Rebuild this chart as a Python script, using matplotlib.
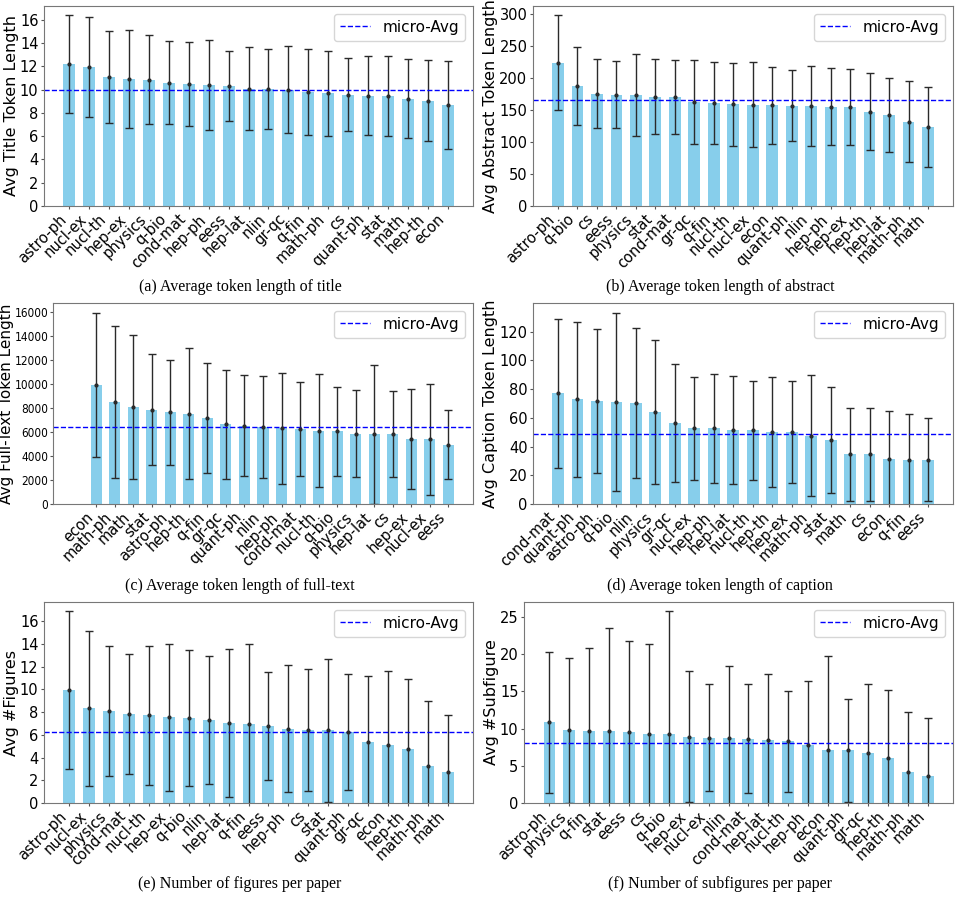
import matplotlib
matplotlib.use("Agg")
import matplotlib.pyplot as plt
from matplotlib import font_manager as fm
import numpy as np

# ---------------- data ----------------
title_cats = ["astro-ph", "nucl-ex", "nucl-th", "hep-ex", "physics", "q-bio", "cond-mat", "hep-ph",
              "eess", "hep-lat", "nlin", "gr-qc", "q-fin", "math-ph", "cs", "quant-ph", "stat",
              "math", "hep-th", "econ"]
title_mean = [12.2, 11.97, 11.09, 10.91, 10.86, 10.6, 10.51, 10.4, 10.31, 10.09, 10.06, 10.0, 9.8,
              9.69, 9.57, 9.49, 9.43, 9.23, 9.06, 8.69]
title_std = [4.2, 4.3, 3.95, 4.2, 3.85, 3.55, 3.6, 3.86, 3.0, 3.55, 3.4, 3.75, 3.72, 3.64, 3.12,
             3.38, 3.43, 3.4, 3.48, 3.75]
title_avg = 9.98

abs_cats = ["astro-ph", "q-bio", "cs", "eess", "physics", "stat", "cond-mat", "gr-qc", "q-fin",
            "nucl-th", "nucl-ex", "econ", "quant-ph", "nlin", "hep-ph", "hep-ex", "hep-th",
            "hep-lat", "math-ph", "math"]
abs_mean = [223.2, 186.6, 175.3, 173.7, 173.2, 170.6, 170.1, 162.4, 161.3, 158.8, 158.2, 157.2,
            156.7, 156.2, 155.2, 154.1, 146.9, 141.8, 131.4, 123.2]
abs_std = [74, 61, 54, 52, 64, 59, 57, 65, 64, 65, 66, 60, 56, 62.5, 60, 59, 60, 58, 63, 63]
abs_avg = 166.0

full_cats = ["econ", "math-ph", "math", "stat", "astro-ph", "hep-th", "q-fin", "gr-qc", "quant-ph",
             "nlin", "hep-ph", "cond-mat", "nucl-th", "q-bio", "physics", "hep-lat", "cs", "hep-ex",
             "nucl-ex", "eess"]
full_mean = [9889, 8500, 8083, 7861, 7639, 7528, 7194, 6639, 6528, 6389, 6306, 6250, 6111, 6056,
             5861, 5810, 5806, 5444, 5389, 4944]
full_std = [6000, 6320, 5970, 4650, 4360, 5480, 4570, 4530, 4200, 4260, 4640, 3940, 4710, 3700,
            3610, 5780, 3580, 4170, 4610, 2900]
full_avg = 6417

cap_cats = ["cond-mat", "quant-ph", "astro-ph", "q-bio", "nlin", "physics", "gr-qc", "nucl-ex",
            "hep-ph", "hep-lat", "nucl-th", "hep-th", "hep-ex", "math-ph", "stat", "math", "cs",
            "econ", "q-fin", "eess"]
cap_mean = [77.2, 73.1, 71.9, 71.2, 70.5, 64.0, 56.4, 52.7, 52.7, 51.3, 51.3, 50.2, 50.2, 47.6,
            44.6, 34.5, 34.5, 31.2, 30.8, 30.8]
cap_std = [52, 54, 50.3, 62, 52.4, 50, 41.3, 35.7, 37.9, 37.6, 34.7, 38.5, 35.5, 42.3, 37.2, 32.6,
           32.4, 33.9, 32.1, 28.8]
cap_avg = 49.0

fig_cats = ["astro-ph", "nucl-ex", "physics", "cond-mat", "nucl-th", "hep-ex", "q-bio", "nlin",
            "hep-lat", "q-fin", "eess", "hep-ph", "cs", "stat", "quant-ph", "gr-qc", "econ",
            "hep-th", "math-ph", "math"]
fig_mean = [9.94, 8.33, 8.12, 7.86, 7.71, 7.54, 7.51, 7.30, 7.07, 6.95, 6.77, 6.54, 6.45, 6.39,
            6.25, 5.40, 5.10, 4.78, 3.26, 2.73]
fig_std = [6.95, 6.8, 5.73, 5.28, 6.1, 6.5, 5.97, 5.66, 6.51, 7.04, 4.78, 5.6, 5.35, 6.28, 5.07,
           5.8, 6.5, 6.13, 5.71, 5.01]
fig_avg = 6.22

sub_cats = ["astro-ph", "physics", "q-fin", "stat", "eess", "cs", "q-bio", "hep-ex", "nucl-ex",
            "nlin", "cond-mat", "hep-lat", "nucl-th", "hep-ph", "econ", "quant-ph", "gr-qc",
            "hep-th", "math-ph", "math"]
sub_mean = [10.82, 9.75, 9.70, 9.70, 9.57, 9.30, 9.30, 8.90, 8.77, 8.68, 8.63, 8.41, 8.27, 7.74,
            7.16, 7.07, 6.71, 6.04, 4.11, 3.67]
sub_std = [9.44, 9.7, 11.1, 13.8, 12.2, 12.0, 16.5, 8.8, 7.2, 9.7, 7.35, 8.9, 6.8, 8.7, 12.6,
           6.93, 9.3, 9.1, 8.1, 7.7]
sub_avg = 8.0

ylabels = ["Avg Title Token Length", "Avg Abstract Token Length", "Avg Full-Text Token Length",
           "Avg Caption Token Length", "Avg #Figures", "Avg #Subfigure"]
captions = ["(a) Average token length of title", "(b) Average token length of abstract",
            "(c) Average token length of full-text", "(d) Average token length of caption",
            "(e) Number of figures per paper", "(f) Number of subfigures per paper"]

# ---------------- figure ----------------
W, H = 960, 899
plt.rcParams['font.family'] = ['DejaVu Sans']
fig = plt.figure(figsize=(W / 100, H / 100), dpi=100)

FS_LABEL = 11.5
FS_TICK = 10.5
FS_LEG = 11


def _is_regular(f):
    w = f.weight
    return (w in (400, "normal", "regular", "book", "Book")) and f.style == "normal"


# find a narrow regular font for the cramped y tick labels of panel (c)
narrow = None
for f in fm.fontManager.ttflist:
    if not _is_regular(f):
        continue
    if f.name in ("DejaVu Sans Condensed", "Liberation Sans Narrow") or \
            (f.name == "DejaVu Sans" and str(f.stretch) in ("condensed", "semi-condensed")):
        narrow = f
        break

# axes boxes in pixels: left, right, top, bottom
boxes = [(44, 473, 6, 206), (533, 953, 6, 206),
         (53, 473, 303, 504), (533, 953, 303, 504),
         (44, 473, 602, 803), (524, 953, 602, 803)]
panels = [(title_cats, title_mean, title_std, title_avg, (0, 17.2), [0, 2, 4, 6, 8, 10, 12, 14, 16]),
          (abs_cats, abs_mean, abs_std, abs_avg, (0, 312), [0, 50, 100, 150, 200, 250, 300]),
          (full_cats, full_mean, full_std, full_avg, (0, 16750), list(range(0, 16001, 2000))),
          (cap_cats, cap_mean, cap_std, cap_avg, (0, 140), list(range(0, 121, 20))),
          (fig_cats, fig_mean, fig_std, fig_avg, (0, 17.7), list(range(0, 17, 2))),
          (sub_cats, sub_mean, sub_std, sub_avg, (0, 27.0), [0, 5, 10, 15, 20, 25])]
cap_y = [287, 287, 586, 586, 884, 884]
cap_x = [240, 720, 240, 720, 240, 720]

for i, ((cats, mean, std, avg, ylim, yt), (l, r, t, b)) in enumerate(zip(panels, boxes)):
    ax = fig.add_axes([l / W, 1 - b / H, (r - l) / W, (b - t) / H])
    x = np.arange(len(cats))
    ax.bar(x, mean, width=0.6, color='skyblue')
    ax.errorbar(x, mean, yerr=std, fmt='o', markersize=2, color='#2a2a2a', ecolor='#2a2a2a',
                elinewidth=1, capsize=3, capthick=1)
    ax.axhline(avg, color='blue', linestyle='--', linewidth=1, label='micro-Avg')
    ax.set_ylim(*ylim)
    ax.set_yticks(yt)
    if i == 2:
        ax.set_xlim(-2.33, 20.33)
    else:
        ax.set_xlim(-1.28, 20.28)
    ax.set_xticks(x)
    ax.set_xticklabels(cats, rotation=45, ha='right', fontsize=FS_TICK)
    ax.tick_params(axis='both', length=2.5, pad=1.5, color='#555555')
    ax.tick_params(axis='y', labelsize=FS_TICK)
    if i == 2:
        ax.tick_params(axis='y', pad=0.8)
        if narrow is not None:
            for lab in ax.get_yticklabels():
                lab.set_fontproperties(fm.FontProperties(fname=narrow.fname, size=8.5))
        else:
            ax.tick_params(axis='y', labelsize=8)
        ax.set_ylabel(ylabels[i], fontsize=11, labelpad=0.5)
    else:
        ax.set_ylabel(ylabels[i], fontsize=FS_LABEL, labelpad=0.8)
    for s in ax.spines.values():
        s.set_color('#777777')
    ax.legend(loc='upper right', fontsize=FS_LEG)
    fig.text(cap_x[i] / W, 1 - cap_y[i] / H, captions[i], ha='center', va='center',
             fontsize=11.5, family=['Liberation Serif'])

fig.savefig("out.png", dpi=100)
